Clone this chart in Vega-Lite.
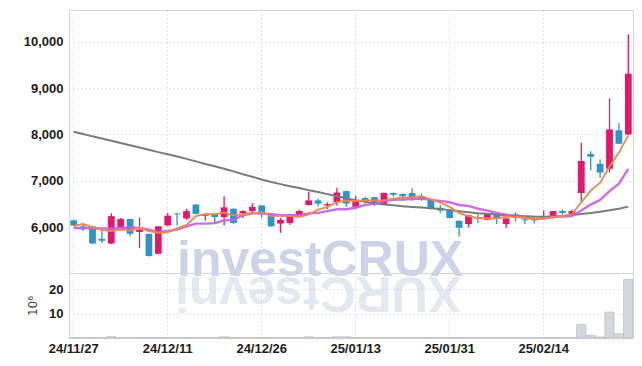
{
  "$schema": "https://vega.github.io/schema/vega-lite/v6.json",
  "background": "white",
  "padding": {"left": 22, "top": 9, "right": 8, "bottom": 4},
  "spacing": 0,
  "bounds": "flush",
  "datasets": {
    "px": [
      {"d":"24/11/27","o":6150,"h":6160,"l":6030,"c":6040,"m5":6030,"m10":5985,"mg":8060,"v":0.2},
      {"d":"24/11/28","o":6020,"h":6060,"l":5920,"c":5960,"m5":6070,"m10":5980,"mg":8010,"v":0.15},
      {"d":"24/11/29","o":6020,"h":6030,"l":5640,"c":5650,"m5":6000,"m10":5978,"mg":7960,"v":0.2},
      {"d":"24/12/02","o":5750,"h":5950,"l":5660,"c":5710,"m5":5940,"m10":5975,"mg":7915,"v":0.15},
      {"d":"24/12/03","o":5650,"h":6300,"l":5640,"c":6240,"m5":5920,"m10":5975,"mg":7865,"v":0.6},
      {"d":"24/12/04","o":5990,"h":6200,"l":5960,"c":6180,"m5":5950,"m10":5985,"mg":7815,"v":0.2},
      {"d":"24/12/05","o":6180,"h":6180,"l":5800,"c":5860,"m5":5930,"m10":5995,"mg":7770,"v":0.15},
      {"d":"24/12/06","o":5900,"h":6210,"l":5550,"c":5950,"m5":5990,"m10":5985,"mg":7720,"v":0.2},
      {"d":"24/12/09","o":5860,"h":5860,"l":5370,"c":5380,"m5":5920,"m10":5950,"mg":7670,"v":0.2},
      {"d":"24/12/10","o":5430,"h":6030,"l":5420,"c":6020,"m5":5880,"m10":5900,"mg":7620,"v":0.2},
      {"d":"24/12/11","o":6040,"h":6310,"l":6020,"c":6250,"m5":5890,"m10":5920,"mg":7575,"v":0.15},
      {"d":"24/12/12","o":6300,"h":6300,"l":6040,"c":6280,"m5":5980,"m10":5950,"mg":7525,"v":0.15},
      {"d":"24/12/13","o":6190,"h":6400,"l":6160,"c":6350,"m5":6050,"m10":6020,"mg":7475,"v":0.2},
      {"d":"24/12/16","o":6490,"h":6500,"l":6280,"c":6290,"m5":6240,"m10":6080,"mg":7420,"v":0.2},
      {"d":"24/12/17","o":6250,"h":6300,"l":6140,"c":6280,"m5":6290,"m10":6080,"mg":7365,"v":0.15},
      {"d":"24/12/18","o":6290,"h":6300,"l":6070,"c":6220,"m5":6280,"m10":6090,"mg":7315,"v":0.15},
      {"d":"24/12/19","o":6220,"h":6670,"l":6040,"c":6430,"m5":6320,"m10":6150,"mg":7260,"v":0.5},
      {"d":"24/12/20","o":6400,"h":6410,"l":6080,"c":6090,"m5":6260,"m10":6160,"mg":7205,"v":0.2},
      {"d":"24/12/23","o":6300,"h":6370,"l":6200,"c":6350,"m5":6280,"m10":6260,"mg":7145,"v":0.15},
      {"d":"24/12/24","o":6350,"h":6520,"l":6290,"c":6440,"m5":6310,"m10":6300,"mg":7090,"v":0.15},
      {"d":"24/12/26","o":6470,"h":6480,"l":6210,"c":6280,"m5":6320,"m10":6300,"mg":7030,"v":0.2},
      {"d":"24/12/27","o":6280,"h":6280,"l":6010,"c":6020,"m5":6240,"m10":6280,"mg":6975,"v":0.2},
      {"d":"24/12/30","o":6080,"h":6200,"l":5880,"c":6160,"m5":6250,"m10":6260,"mg":6930,"v":0.15},
      {"d":"25/01/02","o":6090,"h":6290,"l":6050,"c":6280,"m5":6240,"m10":6260,"mg":6885,"v":0.2},
      {"d":"25/01/03","o":6260,"h":6380,"l":6240,"c":6350,"m5":6220,"m10":6260,"mg":6845,"v":0.15},
      {"d":"25/01/06","o":6480,"h":6760,"l":6470,"c":6580,"m5":6280,"m10":6300,"mg":6800,"v":0.5},
      {"d":"25/01/07","o":6580,"h":6620,"l":6450,"c":6510,"m5":6380,"m10":6310,"mg":6760,"v":0.2},
      {"d":"25/01/08","o":6470,"h":6540,"l":6390,"c":6500,"m5":6440,"m10":6350,"mg":6715,"v":0.2},
      {"d":"25/01/09","o":6540,"h":6850,"l":6470,"c":6750,"m5":6540,"m10":6390,"mg":6670,"v":0.5},
      {"d":"25/01/10","o":6780,"h":6780,"l":6440,"c":6510,"m5":6570,"m10":6390,"mg":6625,"v":0.5},
      {"d":"25/01/13","o":6440,"h":6680,"l":6400,"c":6570,"m5":6570,"m10":6420,"mg":6585,"v":0.2},
      {"d":"25/01/14","o":6630,"h":6660,"l":6520,"c":6580,"m5":6580,"m10":6480,"mg":6550,"v":0.15},
      {"d":"25/01/15","o":6650,"h":6650,"l":6460,"c":6490,"m5":6580,"m10":6510,"mg":6520,"v":0.15},
      {"d":"25/01/16","o":6500,"h":6750,"l":6490,"c":6740,"m5":6580,"m10":6560,"mg":6490,"v":0.2},
      {"d":"25/01/17","o":6740,"h":6750,"l":6660,"c":6700,"m5":6620,"m10":6590,"mg":6475,"v":0.15},
      {"d":"25/01/20","o":6720,"h":6730,"l":6570,"c":6670,"m5":6640,"m10":6600,"mg":6455,"v":0.15},
      {"d":"25/01/21","o":6740,"h":6840,"l":6570,"c":6630,"m5":6650,"m10":6610,"mg":6440,"v":0.2},
      {"d":"25/01/22","o":6650,"h":6730,"l":6570,"c":6600,"m5":6670,"m10":6620,"mg":6425,"v":0.15},
      {"d":"25/01/23","o":6600,"h":6610,"l":6390,"c":6400,"m5":6600,"m10":6590,"mg":6410,"v":0.2},
      {"d":"25/01/24","o":6420,"h":6480,"l":6310,"c":6360,"m5":6530,"m10":6570,"mg":6395,"v":0.15},
      {"d":"25/01/31","o":6380,"h":6390,"l":6190,"c":6200,"m5":6440,"m10":6540,"mg":6370,"v":0.2},
      {"d":"25/02/03","o":6140,"h":6150,"l":5800,"c":5990,"m5":6310,"m10":6480,"mg":6345,"v":0.2},
      {"d":"25/02/04","o":6070,"h":6270,"l":6000,"c":6260,"m5":6240,"m10":6460,"mg":6325,"v":0.15},
      {"d":"25/02/05","o":6210,"h":6300,"l":6090,"c":6190,"m5":6200,"m10":6400,"mg":6305,"v":0.15},
      {"d":"25/02/06","o":6160,"h":6310,"l":6150,"c":6290,"m5":6190,"m10":6360,"mg":6290,"v":0.15},
      {"d":"25/02/07","o":6290,"h":6310,"l":6070,"c":6200,"m5":6190,"m10":6310,"mg":6275,"v":0.15},
      {"d":"25/02/10","o":6070,"h":6200,"l":5990,"c":6190,"m5":6230,"m10":6270,"mg":6260,"v":0.15},
      {"d":"25/02/11","o":6280,"h":6330,"l":6130,"c":6210,"m5":6220,"m10":6230,"mg":6250,"v":0.15},
      {"d":"25/02/12","o":6170,"h":6210,"l":6070,"c":6150,"m5":6210,"m10":6210,"mg":6240,"v":0.1},
      {"d":"25/02/13","o":6200,"h":6240,"l":6080,"c":6150,"m5":6180,"m10":6180,"mg":6230,"v":0.1},
      {"d":"25/02/14","o":6190,"h":6360,"l":6160,"c":6240,"m5":6190,"m10":6190,"mg":6225,"v":0.2},
      {"d":"25/02/17","o":6240,"h":6350,"l":6190,"c":6350,"m5":6220,"m10":6220,"mg":6230,"v":0.2},
      {"d":"25/02/18","o":6350,"h":6380,"l":6270,"c":6310,"m5":6240,"m10":6230,"mg":6245,"v":0.15},
      {"d":"25/02/19","o":6290,"h":6380,"l":6250,"c":6350,"m5":6280,"m10":6240,"mg":6265,"v":0.2},
      {"d":"25/02/20","o":6740,"h":7820,"l":6560,"c":7430,"m5":6540,"m10":6360,"mg":6285,"v":5.6},
      {"d":"25/02/21","o":7580,"h":7640,"l":7230,"c":7520,"m5":6790,"m10":6490,"mg":6310,"v":1.1},
      {"d":"25/02/24","o":7370,"h":7460,"l":7060,"c":7180,"m5":6960,"m10":6590,"mg":6335,"v":0.4},
      {"d":"25/02/25","o":7260,"h":8780,"l":7180,"c":8110,"m5":7310,"m10":6780,"mg":6365,"v":10.6},
      {"d":"25/02/26","o":8090,"h":8240,"l":7790,"c":7800,"m5":7610,"m10":6940,"mg":6400,"v":1.8},
      {"d":"25/02/27","o":8000,"h":10160,"l":7990,"c":9310,"m5":7980,"m10":7260,"mg":6445,"v":24.0}
    ]
  },
  "vconcat": [
    {
      "width": 564,
      "height": 263,
      "data": {"name": "px"},
      "encoding": {
        "x": {
          "field": "d", "type": "ordinal", "sort": null,
          "scale": {"paddingInner": 0, "paddingOuter": 0},
          "axis": {
            "values": ["24/11/27","24/12/11","24/12/26","25/01/13","25/01/31","25/02/14"],
            "labels": false, "ticks": false, "domain": false, "title": null,
            "grid": true, "bandPosition": 0.5
          }
        }
      },
      "layer": [
        {
          "mark": {"type": "text", "font": "Liberation Sans", "fontWeight": "bold", "fontSize": 50, "fill": "#cdd4e8", "align": "center", "baseline": "alphabetic", "dx": 2},
          "encoding": {
            "y": {"datum": 4940, "type": "quantitative", "scale": {"domain": [5015, 10683], "nice": false, "zero": false}, "axis": {"values": [6000,7000,8000,9000,10000], "labelExpr": "format(datum.value, ',')", "title": null, "ticks": false, "domain": false, "labelPadding": 6, "grid": true}},
            "text": {"condition": {"test": "datum.d == '25/01/07'", "value": "investCRUX"}, "value": ""}
          }
        },
        {
          "mark": {"type": "text", "font": "Liberation Sans", "fontWeight": "bold", "fontSize": 50, "fill": "#e5e8f1", "align": "center", "baseline": "alphabetic", "angle": 180},
          "encoding": {
            "y": {"datum": 4925, "type": "quantitative", "scale": {"domain": [5015, 10683], "nice": false, "zero": false}, "axis": {"values": [6000,7000,8000,9000,10000], "labelExpr": "format(datum.value, ',')", "title": null, "ticks": false, "domain": false, "labelPadding": 6, "grid": true}},
            "text": {"condition": {"test": "datum.d == '25/01/07'", "value": "XURCtsevni"}, "value": ""}
          }
        },
        {
          "mark": {"type": "rule", "strokeWidth": 1.3},
          "encoding": {
            "y": {"field": "l", "type": "quantitative", "scale": {"domain": [5015, 10683], "nice": false, "zero": false}, "axis": {"values": [6000,7000,8000,9000,10000], "labelExpr": "format(datum.value, ',')", "title": null, "ticks": false, "domain": false, "labelPadding": 6, "grid": true}},
            "y2": {"field": "h"},
            "color": {"condition": {"test": "datum.c >= datum.o", "value": "#e2186a"}, "value": "#2e95c8"}
          }
        },
        {
          "mark": {"type": "bar", "width": {"band": 0.72}},
          "encoding": {
            "y": {"field": "o", "type": "quantitative", "scale": {"domain": [5015, 10683], "nice": false, "zero": false}, "axis": {"values": [6000,7000,8000,9000,10000], "labelExpr": "format(datum.value, ',')", "title": null, "ticks": false, "domain": false, "labelPadding": 6, "grid": true}},
            "y2": {"field": "c"},
            "color": {"condition": {"test": "datum.c >= datum.o", "value": "#e2186a"}, "value": "#2e95c8"}
          }
        },
        {
          "mark": {"type": "line", "color": "#7b7b7b", "strokeWidth": 2},
          "encoding": {"y": {"field": "mg", "type": "quantitative", "scale": {"domain": [5015, 10683], "nice": false, "zero": false}, "axis": {"values": [6000,7000,8000,9000,10000], "labelExpr": "format(datum.value, ',')", "title": null, "ticks": false, "domain": false, "labelPadding": 6, "grid": true}}}
        },
        {
          "mark": {"type": "line", "color": "#c45ee6", "strokeWidth": 2.4, "opacity": 0.9},
          "encoding": {"y": {"field": "m10", "type": "quantitative", "scale": {"domain": [5015, 10683], "nice": false, "zero": false}, "axis": {"values": [6000,7000,8000,9000,10000], "labelExpr": "format(datum.value, ',')", "title": null, "ticks": false, "domain": false, "labelPadding": 6, "grid": true}}}
        },
        {
          "mark": {"type": "line", "color": "#f0874c", "strokeWidth": 1.8},
          "encoding": {"y": {"field": "m5", "type": "quantitative", "scale": {"domain": [5015, 10683], "nice": false, "zero": false}, "axis": {"values": [6000,7000,8000,9000,10000], "labelExpr": "format(datum.value, ',')", "title": null, "ticks": false, "domain": false, "labelPadding": 6, "grid": true}}}
        }
      ]
    },
    {
      "width": 564,
      "height": 65,
      "data": {"name": "px"},
      "mark": {"type": "bar", "fill": "#d6d6de", "stroke": "#b6b6c3", "strokeWidth": 0.6, "width": {"band": 1}},
      "encoding": {
        "x": {
          "field": "d", "type": "ordinal", "sort": null,
          "scale": {"paddingInner": 0, "paddingOuter": 0},
          "axis": {
            "values": ["24/11/27","24/12/11","24/12/26","25/01/13","25/01/31","25/02/14"],
            "ticks": false, "domain": false, "title": null, "labelAngle": 0,
            "grid": true, "bandPosition": 0.5, "labelPadding": 4
          }
        },
        "y": {
          "field": "v", "type": "quantitative",
          "scale": {"domain": [0, 26.6], "nice": false},
          "axis": {"values": [10, 20], "title": "10⁶", "titlePadding": 9, "titleFontSize": 12, "titleFontWeight": "normal", "titleFont": "DejaVu Sans", "titleColor": "#444444", "ticks": false, "domain": false, "labelPadding": 6, "grid": true}
        }
      }
    }
  ],
  "config": {
    "view": {"stroke": "#d2d5de", "strokeWidth": 1},
    "axis": {
      "gridColor": "#c3c8da", "gridDash": [1, 3], "gridWidth": 1,
      "labelFont": "Liberation Sans",
      "labelFontWeight": "bold", "labelFontSize": 13, "labelColor": "#1c1c1c"
    }
  }
}
